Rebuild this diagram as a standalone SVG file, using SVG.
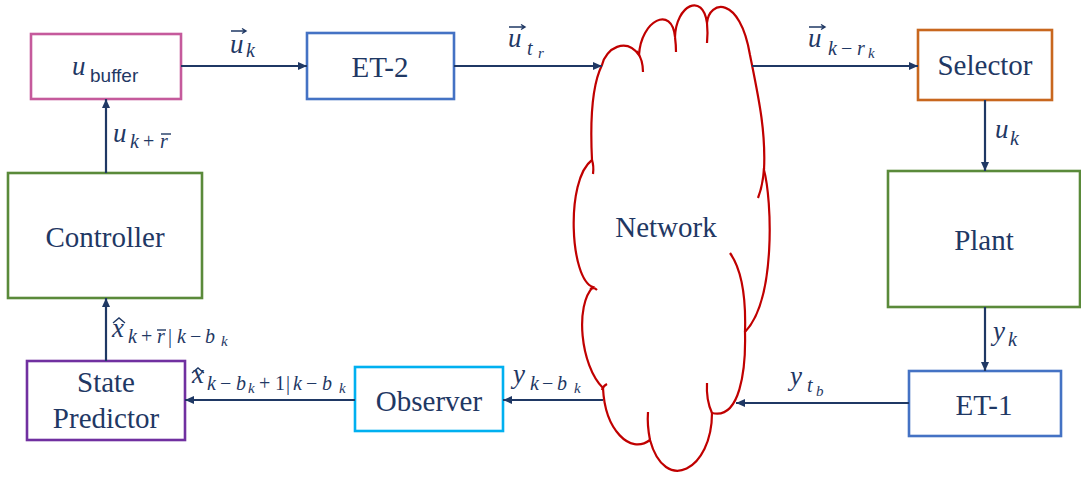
<svg xmlns="http://www.w3.org/2000/svg" width="1081" height="484" viewBox="0 0 1081 484" font-family="Liberation Serif, Times New Roman, serif">
<defs>
<style>
.box{fill:#fff;stroke-width:2.6}
.lbl{font-size:29px;fill:#1F3864;text-anchor:middle}
.m{font-style:italic;font-size:27px;fill:#1F3864}
.s{font-size:20px}
.ss{font-size:15px}
.op{font-style:normal}
.sans{font-style:normal;font-size:19px}
.conn{stroke:#1F3864;stroke-width:2.2;fill:none}
.acc{stroke:#1F3864;stroke-width:1.4;fill:none}
.cloud{stroke:#C00000;stroke-width:2.2;fill:none}
</style>
<marker id="ah" markerWidth="9" markerHeight="8" refX="9" refY="4" orient="auto" markerUnits="userSpaceOnUse">
<path d="M0,0 L9,4 L0,8 z" fill="#1F3864"/>
</marker>
</defs>
<rect width="1081" height="484" fill="#fff"/>

<g id="network">
<path class="cloud" d="M602,65 C606,48 626,37 639,55 C641,20 672,5 675,37 C676,5 703,-8 707,23 C709,0 740,-5 750,55 C758,95 766,130 764,170 C772,200 776,300 745,332 C746,370 740,420 712,413 C712,470 665,495 650,440 C630,455 605,430 603,388 C580,365 575,305 593,287 C570,280 565,180 592,160 C590,120 592,85 602,65 Z"/>
<path class="cloud" d="M637,51 Q643,60 643,72"/>
<path class="cloud" d="M675,37 Q676,45 676,52"/>
<path class="cloud" d="M707,23 Q708,33 707,43"/>
<path class="cloud" d="M764,168 Q763,185 758,198"/>
<path class="cloud" d="M745,332 C746,300 742,270 730,253"/>
<path class="cloud" d="M712,413 Q706,400 707,383"/>
<path class="cloud" d="M650,440 Q647,425 648,412"/>
<path class="cloud" d="M602,390 Q603,386 607,384"/>
<path class="cloud" d="M590,289 Q594,287 597,290"/>
<path class="cloud" d="M592,160 Q594,166 593,174"/>
<text class="lbl" x="666" y="237" font-family="Liberation Serif, serif">Network</text>
</g>

<g id="ubuffer">
<rect class="box" x="31" y="34" width="150" height="65" stroke="#C55A9C"/>
<text class="m" x="72" y="75" font-family="Liberation Serif, serif">u<tspan class="sans" x="90" y="82" font-family="Liberation Sans, Arial, sans-serif">buffer</tspan></text>
</g>

<g id="et2">
<rect class="box" x="307" y="33" width="147" height="66" stroke="#4472C4"/>
<text class="lbl" x="380" y="77" font-family="Liberation Serif, serif">ET-2</text>
</g>

<g id="selector">
<rect class="box" x="918" y="30" width="134" height="70" stroke="#C8671E"/>
<text class="lbl" x="985" y="75" font-family="Liberation Serif, serif">Selector</text>
</g>

<g id="plant">
<rect class="box" x="888" y="171" width="192" height="136" stroke="#5A8A3A"/>
<text class="lbl" x="984" y="250" font-family="Liberation Serif, serif">Plant</text>
</g>

<g id="controller">
<rect class="box" x="8" y="173" width="194" height="125" stroke="#5A8A3A"/>
<text class="lbl" x="105" y="247" font-family="Liberation Serif, serif">Controller</text>
</g>

<g id="statepredictor">
<rect class="box" x="27" y="361" width="158" height="79" stroke="#7030A0"/>
<text class="lbl" x="106" y="392" font-family="Liberation Serif, serif">State</text>
<text class="lbl" x="106" y="428" font-family="Liberation Serif, serif">Predictor</text>
</g>

<g id="observer">
<rect class="box" x="355" y="367" width="148" height="64" stroke="#00B0F0"/>
<text class="lbl" x="429" y="411" font-family="Liberation Serif, serif">Observer</text>
</g>

<g id="et1">
<rect class="box" x="909" y="371" width="152" height="65" stroke="#4472C4"/>
<text class="lbl" x="984" y="415" font-family="Liberation Serif, serif">ET-1</text>
</g>

<g id="connectors" font-family="Liberation Serif, serif">
<path class="conn" d="M181,66 H307" marker-end="url(#ah)"/>
<path class="conn" d="M454,66 H602" marker-end="url(#ah)"/>
<path class="conn" d="M752,66 H918" marker-end="url(#ah)"/>
<path class="conn" d="M985,100 V171" marker-end="url(#ah)"/>
<path class="conn" d="M985,307 V371" marker-end="url(#ah)"/>
<path class="conn" d="M909,403 H736" marker-end="url(#ah)"/>
<path class="conn" d="M603,400 H503" marker-end="url(#ah)"/>
<path class="conn" d="M355,400 H185" marker-end="url(#ah)"/>
<path class="conn" d="M106,361 V298" marker-end="url(#ah)"/>
<path class="conn" d="M106,173 V99" marker-end="url(#ah)"/>

<text class="m" x="230" y="53">u<tspan class="s" x="246" y="57">k</tspan></text>
<path class="acc" d="M231,31 H246 M242,28.5 L246,31 L242,33.5"/>
<text class="m" x="508" y="47">u<tspan class="s" x="527" y="55">t</tspan><tspan class="ss" x="538" y="58">r</tspan></text>
<path class="acc" d="M509,27 H525 M521,24.5 L525,27 L521,29.5"/>
<text class="m" x="808" y="47">u<tspan class="s" x="828" y="55">k</tspan><tspan class="s op" x="841" y="55">−</tspan><tspan class="s" x="857" y="55">r</tspan><tspan class="ss" x="868" y="58">k</tspan></text>
<path class="acc" d="M809,27 H825 M821,24.5 L825,27 L821,29.5"/>
<text class="m" x="995" y="138">u<tspan class="s" x="1010" y="145">k</tspan></text>
<text class="m" x="993" y="340">y<tspan class="s" x="1008" y="346">k</tspan></text>
<text class="m" x="113" y="142">u<tspan class="s" x="130" y="148">k</tspan><tspan class="s op" x="143" y="148">+</tspan><tspan class="s" x="160" y="148">r</tspan></text>
<path class="acc" d="M161,134 H171"/>
<text class="m" x="112" y="337">x<tspan class="s" x="128" y="343">k</tspan><tspan class="s op" x="141" y="343">+</tspan><tspan class="s" x="157" y="343">r</tspan><tspan class="s op" x="168" y="343">|</tspan><tspan class="s" x="177" y="343">k</tspan><tspan class="s op" x="190" y="343">−</tspan><tspan class="s" x="205" y="343">b</tspan><tspan class="ss" x="221" y="346">k</tspan></text>
<path class="acc" d="M113,323 L119,318 L125,323"/>
<path class="acc" d="M157,330 H166"/>
<text class="m" x="192" y="383">x<tspan class="s" x="207" y="390">k</tspan><tspan class="s op" x="220" y="390">−</tspan><tspan class="s" x="236" y="390">b</tspan><tspan class="ss" x="248" y="393">k</tspan><tspan class="s op" x="259" y="390">+</tspan><tspan class="s op" x="275" y="390">1</tspan><tspan class="s op" x="286" y="390">|</tspan><tspan class="s" x="293" y="390">k</tspan><tspan class="s op" x="306" y="390">−</tspan><tspan class="s" x="322" y="390">b</tspan><tspan class="ss" x="339" y="393">k</tspan></text>
<path class="acc" d="M192,373 L198,368 L204,373"/>
<text class="m" x="513" y="383">y<tspan class="s" x="530" y="390">k</tspan><tspan class="s op" x="542" y="390">−</tspan><tspan class="s" x="557" y="390">b</tspan><tspan class="ss" x="574" y="393">k</tspan></text>
<text class="m" x="790" y="385">y<tspan class="s" x="807" y="392">t</tspan><tspan class="ss" x="816" y="396">b</tspan></text>
</g>
</svg>
